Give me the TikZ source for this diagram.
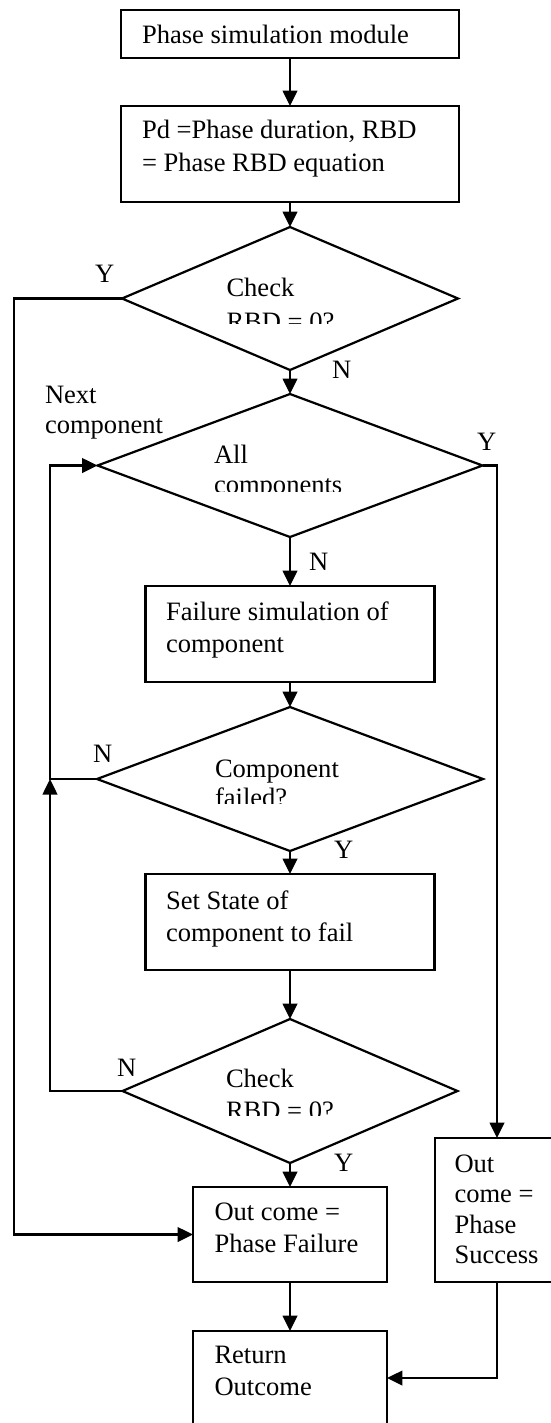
\documentclass[tikz,border=0pt]{standalone}
\usepackage{fontspec}
\setmainfont{Liberation Serif}
\usetikzlibrary{arrows.meta,shapes.geometric,fit}
\newcommand\pxu{0.452pt}
\newcommand\lines[2]{\fontsize{12}{#1}\selectfont\parbox[t]{300pt}{#2}}
\tikzset{
  wire/.style={line width=1pt},
  arr/.style={wire, -{Triangle[length=7pt,width=6.6pt]}},
  box/.style={draw, line width=1pt, inner sep=0pt, outer sep=0pt},
  dec/.style={draw, diamond, line width=1pt, inner sep=0pt, outer sep=0pt},
  txt/.style={anchor=base west, inner sep=0pt, outer sep=0pt, font=\fontsize{12}{14.5}\selectfont},
}
\begin{document}
\begin{tikzpicture}[x=\pxu, y=-\pxu]
\useasboundingbox (0,0) rectangle (551,1423);
\clip (0,0) rectangle (551,1423);

% process boxes
\node[box, fit={(121,10) (459,58)}] (b1) {};
\node[box, fit={(121,106) (459,202)}] (b2) {};
\node[box, fit={(145.5,586) (434.5,682)}] (b3) {};
\node[box, fit={(145.5,874) (434.5,970)}] (b4) {};
\node[box, fit={(193,1187) (387,1282)}] (b5) {};
\node[box, fit={(193,1331) (387,1480)}] (b6) {};
\node[box, fit={(435,1138) (620,1282)}] (b7) {};

% decisions
\node[dec, minimum width=336*\pxu, minimum height=143*\pxu] (d1) at (290,298.5) {};
\node[dec, minimum width=385*\pxu, minimum height=143*\pxu] (d2) at (290,465.5) {};
\node[dec, minimum width=386*\pxu, minimum height=144*\pxu] (d3) at (290,779) {};
\node[dec, minimum width=335*\pxu, minimum height=144*\pxu] (d4) at (290,1091) {};

% routing columns
\coordinate (Lout) at (14,0);
\coordinate (Lin) at (50,0);
\coordinate (Rx) at (497,0);
\coordinate (Ry) at (0,1378);

% box texts
\node[txt] (t1) at (142,43.3) {Phase simulation module};
\node[txt] (t2) at (142,138.3) {\lines{15.1pt}{Pd =Phase duration, RBD\\= Phase RBD equation}};
\node[txt] (t3) at (166,620) {\lines{14.5pt}{Failure simulation of\\component}};
\node[txt] (t4) at (166,909) {\lines{14.5pt}{Set State of\\component to fail}};
\node[txt] (t5) at (214.5,1220) {\lines{14.5pt}{Out come =\\Phase Failure}};
\node[txt] (t6) at (214.5,1363) {\lines{14.5pt}{Return\\Outcome}};
\node[txt] (t7) at (454.5,1172) {\lines{13.8pt}{Out\\come =\\Phase\\Success}};

% decision texts, cut off by their text frames
\begin{scope}
  \clip (200,250) rectangle (440,323.3);
  \node[txt] (q1) at (226.5,296) {\lines{15.4pt}{Check\\RBD = 0?}};
\end{scope}
\begin{scope}
  \clip (200,420) rectangle (440,491.7);
  \node[txt] (q2) at (214,463.3) {\lines{13.8pt}{All\\components}};
\end{scope}
\begin{scope}
  \clip (200,730) rectangle (440,803.3);
  \node[txt] (q3) at (215,777.3) {\lines{13.1pt}{Component\\failed?}};
\end{scope}
\begin{scope}
  \clip (200,1040) rectangle (440,1115);
  \node[txt] (q4) at (226,1087.3) {\lines{14.65pt}{Check\\RBD = 0?}};
\end{scope}

% branch labels
\node[txt] (y1) at (95,282) {Y};
\node[txt] (n1) at (332,378) {N};
\node[txt] (nx) at (45,403.3) {\lines{13.6pt}{Next\\component}};
\node[txt] (y2) at (477,450) {Y};
\node[txt] (n2) at (309,570) {N};
\node[txt] (n3) at (93,762) {N};
\node[txt] (y3) at (334,858) {Y};
\node[txt] (n4) at (117,1076) {N};
\node[txt] (y4) at (334,1171) {Y};

% connectors
\draw[arr] (b1.south) -- (b2.north);
\draw[arr] (b2.south) -- (d1.north);
\draw[arr] (d1.west) -- (d1.west -| Lout) -- (b5.west -| Lout) -- (b5.west);
\draw[arr] (d1.south) -- (d2.north);
\draw[arr] (d2.east) -- (d2.east -| Rx) -- (b7.north -| Rx);
\draw[arr] (d2.south) -- (b3.north);
\draw[arr] (b3.south) -- (d3.north);
\draw[arr] (d3.west) -- (d3.west -| Lin) -- (d2.west -| Lin) -- (d2.west);
\draw[arr] (d3.south) -- (b4.north);
\draw[arr] (b4.south) -- (d4.north);
\draw[arr] (d4.west) -- (d4.west -| Lin) -- (d3.west -| Lin);
\draw[arr] (d4.south) -- (b5.north);
\draw[arr] (b5.south) -- (b6.north);
\draw[arr] (b7.south -| Rx) -- (Ry -| Rx) -- (Ry -| b6.east);
\end{tikzpicture}
\end{document}
